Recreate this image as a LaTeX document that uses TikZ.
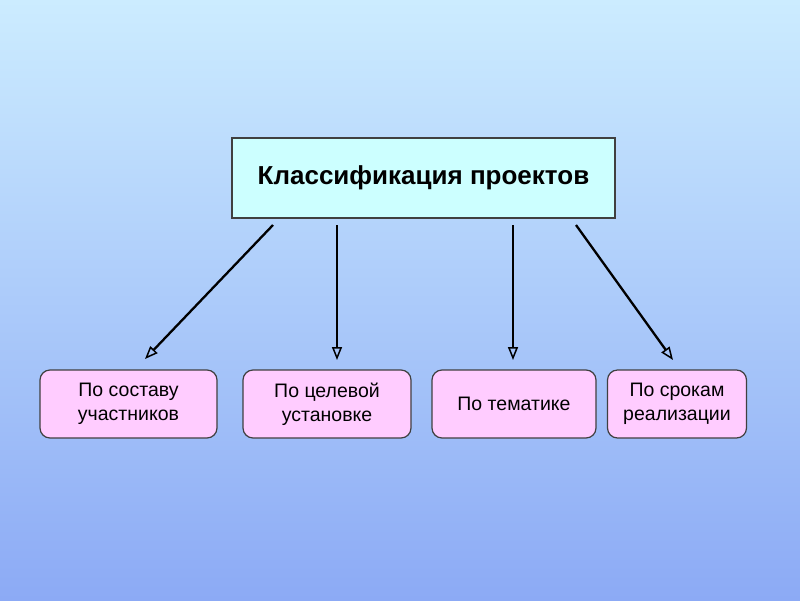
\documentclass[tikz,border=0pt]{standalone}
\usepackage{fontspec}
\setmainfont{Liberation Sans}
\usetikzlibrary{arrows.meta}

\definecolor{bgtop}{RGB}{204,236,255}
\definecolor{bgbottom}{RGB}{140,170,245}
\definecolor{topfill}{RGB}{204,255,255}
\definecolor{kindfill}{RGB}{255,204,255}

\tikzset{
  mainbox/.style={draw=black!75, fill=topfill, line width=1.2pt, minimum width=383pt, minimum height=80pt, font=\bfseries\fontsize{26}{30}\selectfont},
  kindbox/.style={draw=black!75, fill=kindfill, line width=1.2pt, rounded corners=10pt, minimum height=68pt, align=center, font=\fontsize{19.5}{24}\selectfont},
  link/.style={line width=2.3pt, -{Triangle[open, length=13pt, width=10pt, line width=1.5pt]}}
}

\begin{document}
\begin{tikzpicture}[x=1pt,y=-1pt]
\shade[top color=bgtop, bottom color=bgbottom] (0,0) rectangle (800,600);
\useasboundingbox (0,0) rectangle (800,600);
\node[mainbox] (main) at (423.5,178) {Классификация проектов};
\node[kindbox, minimum width=177pt] (kind1) at (128.5,404) {По составу\\участников};
\node[kindbox, minimum width=168pt] (kind2) at (327,404) {По целевой\\установке};
\node[kindbox, minimum width=164pt] (kind3) at (514,404) {По тематике};
\node[kindbox, minimum width=139pt] (kind4) at (677,404) {По срокам\\реализации};
% arrow ends
\coordinate (from1) at (273,225);
\coordinate (from2) at (337,225);
\coordinate (from3) at (513,225);
\coordinate (from4) at (576,225);
\coordinate (to1) at (145,359);
\coordinate (to2) at (337,360);
\coordinate (to3) at (513,360);
\coordinate (to4) at (673,360);
\foreach \i in {1,2,3,4}
  \draw[link] (from\i) -- (to\i);
\end{tikzpicture}
\end{document}
